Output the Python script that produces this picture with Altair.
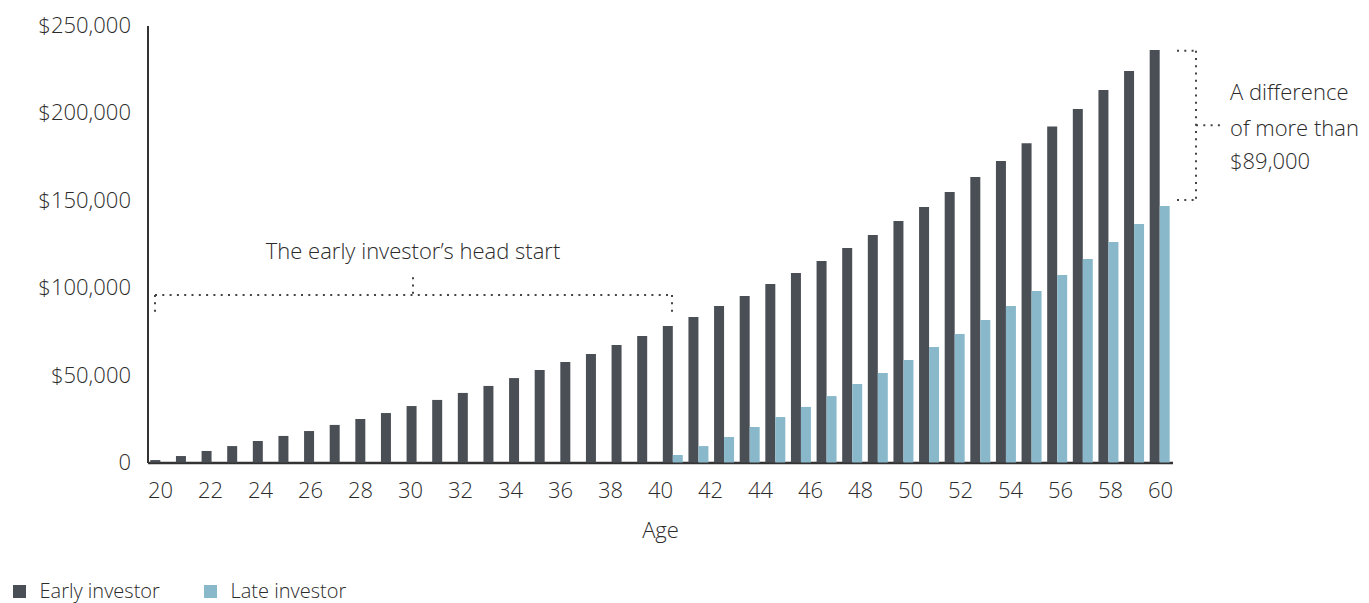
import altair as alt
import pandas as pd

# ---- data ----
bar_ages = list(range(21, 61))  # 40 yearly bars
early_values = [1400, 3700, 6600, 9400, 12300, 15200, 18000, 21500, 24900, 28300,
                32300, 35800, 39800, 43800, 48300, 52900, 57500, 62100, 67200, 72400,
                78100, 83200, 89500, 95300, 102100, 108400, 115300, 122700, 130100, 138200,
                146200, 154700, 163300, 172500, 182700, 192200, 202200, 213100, 224000, 236000]
late_values = [None] * 20 + [4300, 9400, 14600, 20300, 26000, 31800, 38000, 44900, 51200, 58600,
                             66100, 73500, 81500, 89500, 98100, 107300, 116400, 126100, 136400, 146800]
series = ["Early investor", "Late investor"]
colors = ["#4a4e55", "#8ab8cb"]
tick_ages = list(range(20, 61, 2))
y_ticks = [0, 50000, 100000, 150000, 200000, 250000]

# annotation brackets (age units on the label axis, dollar values)
bracket_x1 = [19.8, 19.8, 40.48, 30.12, 60.68, 60.68, 61.44, 61.44]
bracket_x2 = [40.48, 19.8, 40.48, 30.12, 61.44, 61.44, 61.44, 62.48]
bracket_y1 = [95800, 95800, 95800, 106000, 235600, 150200, 235600, 193000]
bracket_y2 = [95800, 85500, 85500, 95800, 235600, 150200, 150200, 193000]

note_left = ["The early investor\u2019s head start"]
note_left_x = [30.12]
note_left_y = [120400]
note_right = ["A difference", "of more than", "$89,000"]
note_right_x = [62.8, 62.8, 62.8]
note_right_y = [211400, 190800, 171900]

FONT = "Open Sans"
TXT = "#2b2b2b"
FS = 22

rows = []
for a, e, l in zip(bar_ages, early_values, late_values):
    rows.append({"age": a, "investor": series[0], "value": e})
    rows.append({"age": a, "investor": series[1], "value": l})
df = pd.DataFrame(rows)

br = pd.DataFrame({"x1": bracket_x1, "x2": bracket_x2, "y1": bracket_y1, "y2": bracket_y2})
nl = pd.DataFrame({"x": note_left_x, "y": note_left_y, "t": note_left})
nr = pd.DataFrame({"x": note_right_x, "y": note_right_y, "t": note_right})

ydom = alt.Scale(domain=[0, 250000], nice=False)
xdom = alt.Scale(domain=[19.5, 60.5], nice=False, zero=False)

y_axis = alt.Axis(values=y_ticks, grid=False, ticks=False, orient="left",
                  labelExpr="datum.value == 0 ? '0' : '$' + format(datum.value, ',')",
                  labelFont=FONT, labelFontSize=FS, labelFontWeight=300,
                  labelColor=TXT, labelPadding=17,
                  domainColor="#333333", domainWidth=2)

x_axis = alt.Axis(values=tick_ages, grid=False, ticks=False, orient="bottom",
                  labelFont=FONT, labelFontSize=FS, labelFontWeight=300,
                  labelColor=TXT, labelPadding=18,
                  domainColor="#333333", domainWidth=2.5,
                  titleFont=FONT, titleFontSize=FS, titleFontWeight=300,
                  titleColor=TXT, titlePadding=19)

bars = alt.Chart(df).mark_bar().encode(
    x=alt.X("age:O", axis=None,
            scale=alt.Scale(paddingInner=0.22, paddingOuter=0.11)),
    xOffset=alt.XOffset("investor:N", sort=series),
    y=alt.Y("value:Q", scale=ydom, title=None, axis=y_axis),
    color=alt.Color("investor:N",
                    scale=alt.Scale(domain=series, range=colors),
                    legend=alt.Legend(title=None, orient="none", direction="horizontal",
                                      legendX=-138, legendY=556,
                                      symbolType="square", symbolSize=170,
                                      symbolStrokeWidth=0, symbolOpacity=1,
                                      labelFont=FONT, labelFontSize=20, labelFontWeight=300,
                                      labelColor=TXT, labelOffset=10, columnPadding=40)),
)

rules = alt.Chart(br).mark_rule(color="#444444", strokeWidth=2,
                                strokeDash=[2, 5.3]).encode(
    x=alt.X("x1:Q", scale=xdom, title="Age", axis=x_axis),
    x2="x2:Q",
    y=alt.Y("y1:Q", scale=ydom, title=None, axis=y_axis),
    y2="y2:Q",
)

text_left = alt.Chart(nl).mark_text(font=FONT, fontSize=FS, fontWeight=300, color=TXT,
                                    align="center", baseline="middle").encode(
    x=alt.X("x:Q", scale=xdom, title="Age", axis=x_axis),
    y=alt.Y("y:Q", scale=ydom, title=None, axis=y_axis),
    text="t:N",
)

text_right = alt.Chart(nr).mark_text(font=FONT, fontSize=FS, fontWeight=300, color=TXT,
                                     align="left", baseline="middle").encode(
    x=alt.X("x:Q", scale=xdom, title="Age", axis=x_axis),
    y=alt.Y("y:Q", scale=ydom, title=None, axis=y_axis),
    text="t:N",
)

notes = alt.layer(rules, text_left, text_right)

chart = alt.layer(bars, notes).resolve_scale(x="independent").properties(
    width=1025, height=437,
    autosize=alt.AutoSizeParams(type="none"),
    padding={"left": 147.5, "top": 25.5, "right": 196.5, "bottom": 140.5},
    background="white",
).configure_view(strokeWidth=0, stroke="transparent")

chart.save("out.html", embed_options={"renderer": "svg", "actions": False})
